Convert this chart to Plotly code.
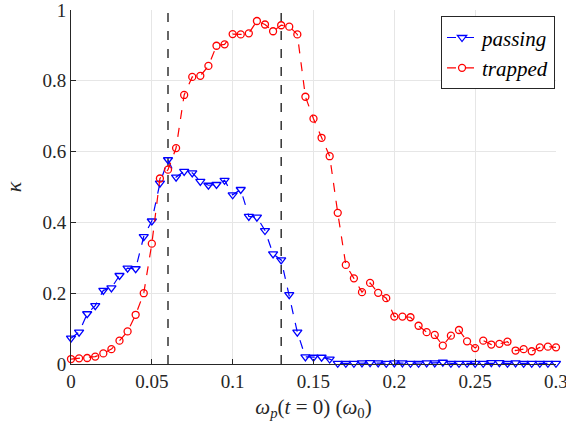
import plotly.graph_objects as go

omega = [round(i * 0.005, 3) for i in range(61)]

passing = [0.073, 0.090, 0.142, 0.165, 0.208, 0.215, 0.250, 0.271, 0.269, 0.360,
           0.404, 0.511, 0.577, 0.528, 0.544, 0.540, 0.516, 0.505, 0.507, 0.519,
           0.478, 0.493, 0.417, 0.415, 0.377, 0.311, 0.294, 0.196, 0.090, 0.020,
           0.019, 0.019, 0.014, 0.002, 0.002, 0.002, 0.003, 0.004, 0.003, 0.002,
           0.003, 0.003, 0.002, 0.002, 0.003, 0.003, 0.005, 0.002, 0.002, 0.002,
           0.002, 0.002, 0.004, 0.004, 0.002, 0.003, 0.002, 0.002, 0.002, 0.002,
           0.002]

trapped = [0.014, 0.016, 0.017, 0.021, 0.030, 0.042, 0.066, 0.092, 0.139, 0.200,
           0.340, 0.524, 0.549, 0.610, 0.760, 0.811, 0.814, 0.842, 0.899, 0.903,
           0.932, 0.931, 0.934, 0.969, 0.959, 0.940, 0.957, 0.953, 0.931, 0.755,
           0.693, 0.639, 0.587, 0.427, 0.280, 0.242, 0.203, 0.229, 0.201, 0.186,
           0.134, 0.134, 0.132, 0.108, 0.090, 0.082, 0.052, 0.080, 0.096, 0.064,
           0.045, 0.066, 0.055, 0.057, 0.063, 0.038, 0.042, 0.036, 0.047, 0.049,
           0.047]

vlines = [0.06, 0.13]

x_ticks = [0, 0.05, 0.1, 0.15, 0.2, 0.25, 0.3]
x_labels = ["0", "0.05", "0.1", "0.15", "0.2", "0.25", "0.3"]
y_ticks = [0, 0.2, 0.4, 0.6, 0.8, 1]
y_labels = ["0", "0.2", "0.4", "0.6", "0.8", "1"]

serif = "Liberation Serif, Tinos, Noto Serif, Nimbus Roman, FreeSerif, DejaVu Serif, serif"

fig = go.Figure()
fig.add_trace(go.Scatter(
    x=omega, y=passing, mode="lines+markers", name="<i>passing</i>",
    line=dict(color="#0000ff", dash="dash", width=1.2),
    marker=dict(symbol="triangle-down-open", size=8, color="#0000ff",
                line=dict(width=1.3)),
    cliponaxis=False,
))
fig.add_trace(go.Scatter(
    x=omega, y=trapped, mode="lines+markers", name="<i>trapped</i>",
    line=dict(color="#ff0000", dash="dash", width=1.2),
    marker=dict(symbol="circle-open", size=7, color="#ff0000",
                line=dict(width=1.3)),
    cliponaxis=False,
))

for xv in vlines:
    fig.add_shape(type="line", x0=xv, x1=xv, xref="x", y0=0, y1=1, yref="paper",
                  line=dict(color="black", width=1.2, dash="dash"), layer="below")

fig.update_layout(
    template="none",
    width=566, height=432,
    margin=dict(l=71, r=10, t=10, b=68, autoexpand=False),
    paper_bgcolor="white", plot_bgcolor="white",
    font=dict(family=serif, size=19, color="#262626"),
    showlegend=True,
    legend=dict(
        x=0.998, y=0.982, xanchor="right", yanchor="top",
        bgcolor="white", bordercolor="#262626", borderwidth=1,
        font=dict(family=serif, size=21, color="black"),
        itemwidth=30, tracegroupgap=0,
    ),
    xaxis=dict(
        range=[0, 0.30001], tickvals=x_ticks, ticktext=x_labels,
        showgrid=True, gridcolor="#e6e6e6", gridwidth=1,
        showline=True, linecolor="#262626", linewidth=1,
        ticks="inside", ticklen=5, tickcolor="#262626",
        ticklabeloverflow="allow", automargin=False,
        tickfont=dict(family=serif, size=19, color="#262626"),
        zeroline=False, mirror=False,
        title=dict(text="<i>ω<sub>p</sub></i>(<i>t</i> = 0) (<i>ω</i><sub>0</sub>)",
                   font=dict(family=serif, size=21, color="#262626"), standoff=8),
    ),
    yaxis=dict(
        range=[0, 1.00001], tickvals=y_ticks, ticktext=y_labels,
        showgrid=True, gridcolor="#e6e6e6", gridwidth=1,
        showline=True, linecolor="#262626", linewidth=1,
        ticks="inside", ticklen=5, tickcolor="#262626",
        ticklabeloverflow="allow", automargin=False,
        tickfont=dict(family=serif, size=19, color="#262626"),
        zeroline=False, mirror=False,
        title=dict(text="<i>κ</i>", font=dict(family=serif, size=22, color="#262626"),
                   standoff=14),
    ),
)

fig.write_html("out.html")
